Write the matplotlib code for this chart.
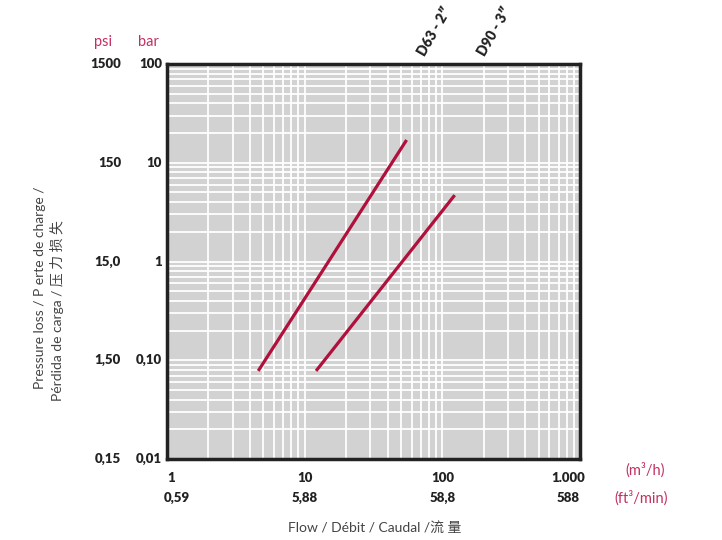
import matplotlib
matplotlib.use("Agg")
import matplotlib.pyplot as plt
from matplotlib.ticker import LogLocator, NullFormatter
import matplotlib.transforms as mtransforms

# ---- data ----
series_names = ["D63 - 2\u2033", "D90 - 3\u2033"]
d63_flow = [4.6, 55.0]        # m3/h
d63_loss = [0.078, 17.0]      # bar
d90_flow = [12.1, 123.0]
d90_loss = [0.078, 4.7]
series_label_x = [75, 205]    # flow value where each rotated label starts

x_ticks = [1, 10, 100, 1000]
x_labels_m3h = ["1", "10", "100", "1.000"]
x_labels_ft3 = ["0,59", "5,88", "58,8", "588"]
y_ticks = [100, 10, 1, 0.1, 0.01]
y_labels_bar = ["100", "10", "1", "0,10", "0,01"]
y_labels_psi = ["1500", "150", "15,0", "1,50", "0,15"]

LINE = "#b0103c"
PINK = "#c4305e"
DARK = "#222222"
BG = "#d2d2d2"

fig = plt.figure(figsize=(7.22, 5.40), dpi=100)
ax = fig.add_axes([167/722, 1-459/540, 413/722, 395/540])
ax.set_xscale("log")
ax.set_yscale("log")
ax.set_xlim(1, 1000)
ax.set_ylim(0.01, 100)
ax.set_facecolor(BG)

ax.xaxis.set_major_locator(LogLocator(base=10))
ax.xaxis.set_minor_locator(LogLocator(base=10, subs=range(2, 10)))
ax.yaxis.set_major_locator(LogLocator(base=10))
ax.yaxis.set_minor_locator(LogLocator(base=10, subs=range(2, 10)))
ax.xaxis.set_major_formatter(NullFormatter())
ax.xaxis.set_minor_formatter(NullFormatter())
ax.yaxis.set_major_formatter(NullFormatter())
ax.yaxis.set_minor_formatter(NullFormatter())
ax.tick_params(which="both", length=0)
ax.grid(True, which="both", color="white", linewidth=1.3)
ax.set_axisbelow(True)
for s in ax.spines.values():
    s.set_color(DARK)
    s.set_linewidth(2.5)

ax.plot(d63_flow, d63_loss, color=LINE, linewidth=2.3, solid_capstyle="butt", zorder=3)
ax.plot(d90_flow, d90_loss, color=LINE, linewidth=2.3, solid_capstyle="butt", zorder=3)

NUMFONT = dict(family=["Lato", "DejaVu Sans"], weight="heavy", fontsize=9.5, color=DARK)
LABFONT = ["Lato", "Noto Sans CJK SC", "DejaVu Sans"]

# x tick labels (two rows)
bx = mtransforms.blended_transform_factory(ax.transData, fig.transFigure)
x_pos = [1.07, 10, 100, 820]
for xp, l1, l2 in zip(x_pos, x_labels_m3h, x_labels_ft3):
    ax.text(xp, 1-478/540, l1, transform=bx, ha="center", va="center", **NUMFONT)
    ax.text(xp * (1.1 if l2 == "0,59" else 1.0), 1-498/540, l2, transform=bx,
            ha="center", va="center", **NUMFONT)

# y tick labels (bar and psi)
by = mtransforms.blended_transform_factory(fig.transFigure, ax.transData)
for yp, lb, lp in zip(y_ticks, y_labels_bar, y_labels_psi):
    ax.text(162/722, yp, lb, transform=by, ha="right", va="center", **NUMFONT)
    ax.text(121/722, yp, lp, transform=by, ha="right", va="center", **NUMFONT)

fig.text(103/722, 1-42/540, "psi", ha="center", va="center", color=PINK,
         fontsize=10.5, family=LABFONT)
fig.text(148/722, 1-42/540, "bar", ha="center", va="center", color=PINK,
         fontsize=10.5, family=LABFONT)

fig.text(645/722, 1-470/540, "(m\u00b3/h)", ha="center", va="center", color=PINK,
         fontsize=10.5, family=LABFONT)
fig.text(641/722, 1-498/540, "(ft\u00b3/min)", ha="center", va="center", color=PINK,
         fontsize=10.5, family=LABFONT)

# series labels above the plot
bt = mtransforms.blended_transform_factory(ax.transData, fig.transFigure)
for name, xf in zip(series_names, series_label_x):
    ax.text(xf, 1-57/540, name, transform=bt, rotation=60, rotation_mode="anchor",
            ha="left", va="baseline", color=DARK, fontsize=10,
            family=["Lato", "DejaVu Sans"], weight="heavy")

# axis titles
fig.text(375/722, 1-527/540, "Flow / D\u00e9bit / Caudal /\u6d41 \u91cf", ha="center",
         va="center", color="#444444", fontsize=10, family=LABFONT)
fig.text(40/722, 1-288/540, "Pressure loss / P erte de charge /", rotation=90,
         ha="center", va="center", color="#444444", fontsize=10, family=LABFONT)
fig.text(57/722, 1-311/540, "P\u00e9rdida de carga / \u538b \u529b \u635f \u5931", rotation=90,
         ha="center", va="center", color="#444444", fontsize=10, family=LABFONT)

fig.savefig("out.png", dpi=100, facecolor="white")
